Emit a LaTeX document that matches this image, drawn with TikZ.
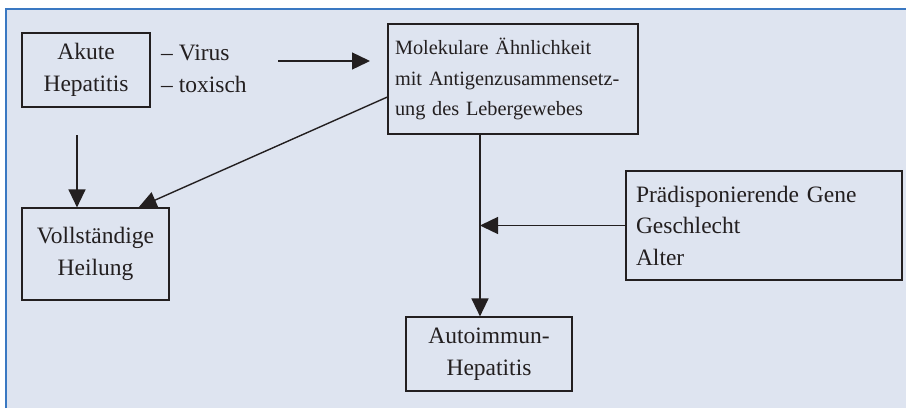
\documentclass[tikz,border=0pt]{standalone}
\usepackage{fontspec}
\setmainfont{Liberation Serif}
\usetikzlibrary{arrows.meta}
\definecolor{panelbg}{HTML}{DEE4F0}
\definecolor{panelline}{HTML}{3A78C2}
\definecolor{ink}{HTML}{231F20}
\tikzset{gbox/.style={
    rectangle,
    draw=ink,
    text=ink,
    line width=1.2pt,
    inner sep=0pt,
    align=center,
    font=\fontsize{23.5}{31.5}\selectfont
  },
  lbox/.style={gbox,align=left},
  plain/.style={inner sep=0pt,align=left,text=ink,
    font=\fontsize{23.5}{32}\selectfont},
  conn/.style={draw=ink,line width=1.4pt},
  arr/.style={conn,-{Triangle[length=18pt,width=17pt]}},
}

\begin{document}
\begin{tikzpicture}[x=1pt,y=-1pt]
  \useasboundingbox (0,0) rectangle (906,408);
  \fill[panelbg] (5,8) rectangle (906,408);
  \draw[panelline,line width=2pt] (6,408) -- (6,9) -- (906,9);

  \node [gbox,minimum width=128,minimum height=74] (akute) at (86,70)
    {Akute\\Hepatitis};
  \node [plain,anchor=west] (cause) at (161,69) {-- Virus\\-- toxisch};
  \node [lbox,minimum width=250,minimum height=110,text width=236,
    font=\fontsize{20.3}{30.5}\selectfont] (mol) at (513,79)
    {Molekulare Ähnlichkeit\\mit Antigenzusammensetz-\\ung des Lebergewebes};
  \node [gbox,minimum width=147,minimum height=92] (heil) at (95.5,254)
    {Vollständige\\Heilung};
  \node [lbox,minimum width=276,minimum height=109,text width=256]
    (gene) at (764,225.5)
    {Prädisponierende Gene\\Geschlecht\\Alter};
  \node [gbox,minimum width=166,minimum height=74] (aih) at (489,354)
    {Autoimmun-\\Hepatitis};

  \coordinate (vstart) at (278,61);
  \coordinate (vend) at (370,61);
  \coordinate (adown) at (77,135);
  \coordinate (mdown) at ([xshift=-33]mol.south);

  \draw[arr] (vstart) -- (vend);
  \draw[arr] (adown) -- (adown |- heil.north);
  \draw[arr] ([yshift=-18]mol.west) -- ([xshift=-31]heil.north east);
  \draw[arr] (mdown) -- (mdown |- aih.north);
  \draw[arr] (gene.west) -- (mdown |- gene.west);
\end{tikzpicture}
\end{document}
